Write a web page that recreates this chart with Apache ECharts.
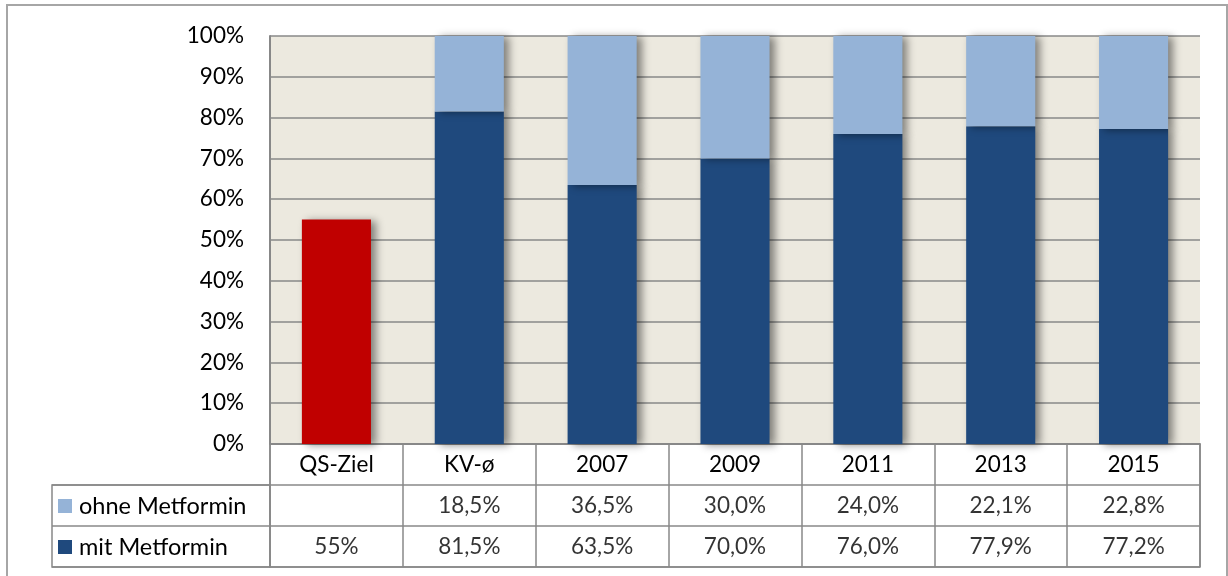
<!DOCTYPE html>
<html lang="de">
<head>
    <meta charset="UTF-8">
    <title>Metformin</title>
    <script src="https://cdn.jsdelivr.net/npm/echarts@6/dist/echarts.min.js"></script>
    <style>
        html, body { margin: 0; padding: 0; background: #fff; }
        #chart { width: 1228px; height: 576px; }
    </style>
</head>
<body>
<div id="chart"></div>

<script>
    // data
    var categories = ['QS-Ziel', 'KV-ø', '2007', '2009', '2011', '2013', '2015'];
    var mitMetformin = [55, 81.5, 63.5, 70.0, 76.0, 77.9, 77.2];
    var ohneMetformin = [null, 18.5, 36.5, 30.0, 24.0, 22.1, 22.8];
    var yTicks = [0, 10, 20, 30, 40, 50, 60, 70, 80, 90, 100];
    var rowNames = ['', 'ohne Metformin', 'mit Metformin'];

    var FONT = 'Lato';
    var FS = 22.5;
    var GRID_LINE = '#888888';
    var DARK = '#1F497D', LIGHT = '#95B3D7', RED = '#C00000';

    function fmt(v, i) {
        if (v == null) return '';
        // the target column is printed without decimals
        var s = i === 0 ? v.toFixed(0) : v.toFixed(1);
        return s.replace('.', ',') + '%';
    }

    var cells = [];
    categories.forEach(function (c, i) {
        cells.push({value: [i, 1], text: fmt(ohneMetformin[i], i)});
        cells.push({value: [i, 2], text: fmt(mitMetformin[i], i)});
    });

    var shadow = {
        shadowColor: 'rgba(0,0,0,0.45)',
        shadowBlur: 8,
        shadowOffsetX: 5,
        shadowOffsetY: 1
    };

    var legendText = {fontFamily: FONT, fontSize: 23.5, color: '#000', lineHeight: 24, padding: [0, 0, 0, 2]};

    var chart = echarts.init(document.getElementById('chart'));

    var option = {
        animation: false,
        textStyle: {fontFamily: FONT},
        graphic: [{
            type: 'rect',
            shape: {x: 7, y: 5, width: 1220, height: 580},
            style: {fill: 'none', stroke: '#a6a6a6', lineWidth: 2},
            z: -10
        }],
        legend: [{
            data: ['ohne Metformin'],
            left: 58, top: 494, padding: 0,
            icon: 'rect', itemWidth: 14, itemHeight: 14, itemGap: 0,
            textStyle: legendText
        }, {
            data: ['mit Metformin'],
            left: 58, top: 535, padding: 0,
            icon: 'rect', itemWidth: 14, itemHeight: 14, itemGap: 0,
            textStyle: legendText
        }],
        grid: [{
            left: 270, top: 36, width: 930, height: 408,
            show: true, backgroundColor: '#ECE9DF', borderWidth: 0
        }, {
            left: 270, top: 444, width: 930, height: 123,
            show: true, borderColor: GRID_LINE, borderWidth: 1.5
        }, {
            left: 52, top: 485, width: 218, height: 82,
            show: true, borderColor: GRID_LINE, borderWidth: 1.5
        }],
        xAxis: [{
            gridIndex: 0,
            type: 'category',
            data: categories,
            axisLine: {show: true, lineStyle: {color: GRID_LINE, width: 1.5}},
            axisTick: {show: false},
            axisLabel: {fontSize: FS, color: '#000', margin: 9}
        }, {
            gridIndex: 1,
            type: 'category',
            data: categories,
            axisLine: {show: false},
            axisTick: {show: false},
            axisLabel: {show: false},
            splitLine: {show: true, lineStyle: {color: GRID_LINE, width: 1.5}}
        }, {
            gridIndex: 2,
            type: 'value',
            show: false
        }],
        yAxis: [{
            gridIndex: 0,
            type: 'value',
            min: 0, max: 100, interval: 10,
            axisLine: {show: true, lineStyle: {color: GRID_LINE, width: 2}},
            axisTick: {show: false},
            axisLabel: {
                fontSize: FS, color: '#000', margin: 26,
                formatter: function (v) { return yTicks.indexOf(v) >= 0 ? v + '%' : ''; }
            },
            splitLine: {show: true, lineStyle: {color: GRID_LINE, width: 1.7}}
        }, {
            gridIndex: 1,
            type: 'category',
            inverse: true,
            data: rowNames,
            axisLine: {show: false},
            axisTick: {show: false},
            axisLabel: {show: false},
            splitLine: {show: true, lineStyle: {color: GRID_LINE, width: 1.5}}
        }, {
            gridIndex: 2,
            type: 'category',
            data: ['a', 'b'],
            axisLine: {show: false},
            axisTick: {show: false},
            axisLabel: {show: false},
            splitLine: {show: true, lineStyle: {color: GRID_LINE, width: 1.5}}
        }],
        series: [{
            name: 'mit Metformin',
            type: 'bar',
            stack: 'total',
            barWidth: '52%',
            itemStyle: Object.assign({color: DARK}, shadow),
            data: mitMetformin.map(function (v, i) {
                return i === 0 ? {value: v, itemStyle: {color: RED}} : v;
            })
        }, {
            name: 'ohne Metformin',
            type: 'bar',
            stack: 'total',
            barWidth: '52%',
            itemStyle: Object.assign({color: LIGHT}, shadow),
            data: ohneMetformin
        }, {
            name: 'table',
            type: 'scatter',
            xAxisIndex: 1,
            yAxisIndex: 1,
            symbolSize: 0,
            silent: true,
            label: {
                show: true,
                position: 'inside',
                fontFamily: FONT,
                fontSize: FS,
                color: '#000',
                formatter: function (p) { return p.data.text; }
            },
            data: cells
        }]
    };

    chart.setOption(option);
</script>
</body>
</html>
